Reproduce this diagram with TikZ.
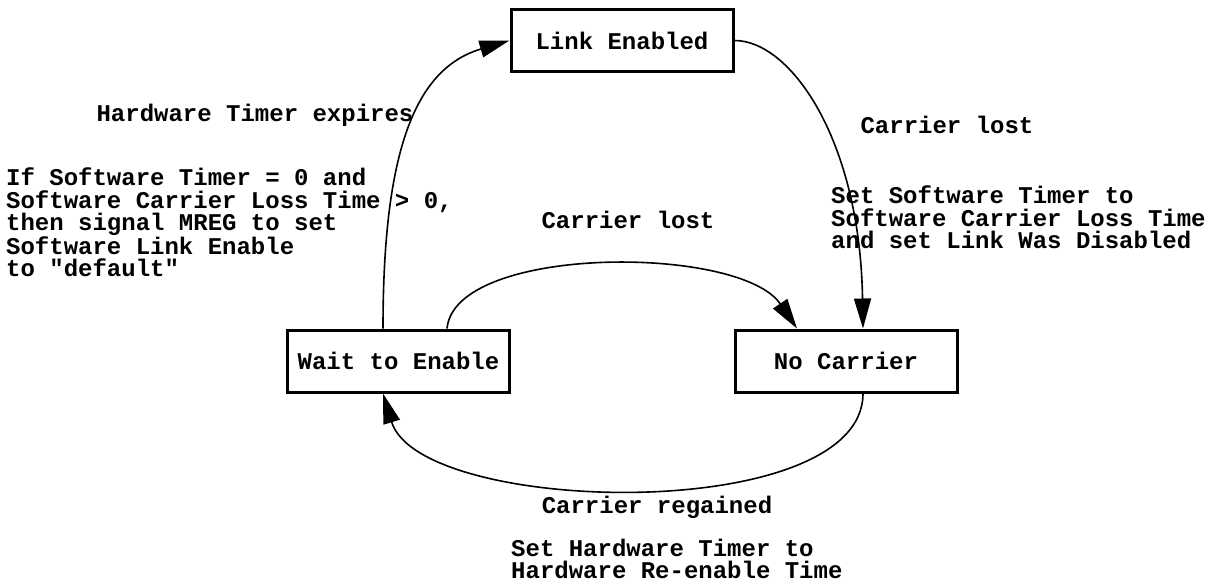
\documentclass[tikz,border=0pt]{standalone}
\usepackage{fontspec}
\setmonofont{Liberation Mono}
\usetikzlibrary{arrows.meta}

\tikzset{
  txt/.style={font=\ttfamily\bfseries\fontsize{24}{22.4}\selectfont, inner sep=0pt},
  state/.style={txt, draw, line width=3pt, minimum width=222pt, minimum height=62pt},
  trans/.style={line width=1.6pt, -{Triangle[length=30pt, width=17pt]}},
  note/.style={txt, align=left, anchor=north west},
}

\begin{document}
\begin{tikzpicture}[x=1pt, y=-1pt]
  \useasboundingbox (0,0) rectangle (1211,583);

  % states
  \node[state] (link) at (622,40.5) {Link Enabled};
  \node[state] (wait) at (398.5,361) {Wait to Enable};
  \node[state] (nocar) at (846,361) {No Carrier};

  % transitions
  \draw[trans] ([xshift=-15.5pt]wait.north) .. controls +(0,-179) and +(-94,28) .. (link.west);
  \draw[trans] (link.east) .. controls +(56,0) and +(-3,-189) .. ([xshift=17pt]nocar.north);
  \draw[trans] ([xshift=48.5pt]wait.north) .. controls +(8,-84) and +(-57,-84) .. ([xshift=-49pt]nocar.north);
  \draw[trans] ([xshift=17pt]nocar.south) .. controls +(0,132) and +(37,122) .. ([xshift=-15.5pt]wait.south);

  % transition labels
  \node[txt] (lhw) at (255,115) {Hardware Timer expires};
  \node[note] (ahw) at (6,168) {If Software Timer = 0 and\\Software Carrier Loss Time > 0,\\then signal MREG to set\\Software Link Enable\\to "default"};
  \node[txt] (lcl1) at (628,220) {Carrier lost};
  \node[txt] (lcl2) at (947,125) {Carrier lost};
  \node[note] (acl2) at (831,186) {Set Software Timer to\\Software Carrier Loss Time\\and set Link Was Disabled};
  \node[txt] (lreg) at (657,507) {Carrier regained};
  \node[note] (areg) at (511,539) {Set Hardware Timer to\\Hardware Re-enable Time};
\end{tikzpicture}
\end{document}
